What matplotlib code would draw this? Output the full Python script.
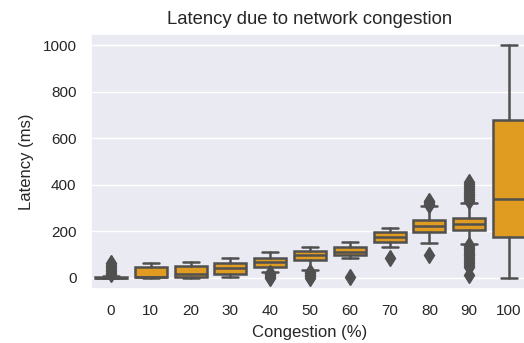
import matplotlib
matplotlib.use("Agg")
import matplotlib.pyplot as plt
import seaborn as sns

categories = ["0", "10", "20", "30", "40", "50", "60", "70", "80", "90", "100"]
q1 = [0, 3, 3, 16, 47, 76, 98, 155, 198, 205, 176]
med = [0, 5, 16, 40, 66, 98, 112, 176, 224, 231, 337]
q3 = [3, 47, 50, 65, 83, 116, 133, 195, 248, 255, 679]
whislo = [0, 0, 0, 2, 26, 32, 83, 133, 148, 145, 0]
whishi = [8, 62, 69, 83, 112, 133, 155, 215, 308, 323, 1000]
fliers = [
    [15, 22, 30, 38, 46, 54, 62],
    [],
    [],
    [],
    [0, 5, 10, 15, 20],
    [0, 6, 12, 18, 24],
    [4],
    [83],
    [98, 312, 318, 325, 332],
    [12, 48, 56, 64, 72, 80, 88, 96, 104, 112, 120, 128, 136, 141,
     330, 338, 346, 354, 362, 370, 378, 386, 394, 402, 410],
    [],
]

sns.set_theme(style="darkgrid")
plt.rcParams['font.family'] = ['Liberation Sans', 'DejaVu Sans']

W, H = 524, 343
fig = plt.figure(figsize=(W / 100, H / 100), dpi=100)
ax = fig.add_axes([91.1 / W, 1 - 289.3 / H, 437.8 / W, 255.6 / H])

box_color = "#DF9C20"
line_color = "#505050"
lw = 1.8
stats = []
for i, c in enumerate(categories):
    stats.append(dict(label=c, q1=q1[i], med=med[i], q3=q3[i],
                      whislo=whislo[i], whishi=whishi[i], fliers=fliers[i]))

ax.bxp(stats, positions=range(len(categories)), widths=0.8, patch_artist=True,
       boxprops=dict(facecolor=box_color, edgecolor=line_color, linewidth=lw),
       medianprops=dict(color=line_color, linewidth=lw),
       whiskerprops=dict(color=line_color, linewidth=lw),
       capprops=dict(color=line_color, linewidth=lw),
       flierprops=dict(marker='d', markerfacecolor=line_color,
                       markeredgecolor=line_color, markersize=8.5,
                       markeredgewidth=1))

ax.set_xlim(-0.5, 10.5)
ax.set_ylim(-50, 1050)
ax.set_yticks([0, 200, 400, 600, 800, 1000])
ax.set_xticks(range(len(categories)))
ax.set_xticklabels(categories)
ax.tick_params(axis='both', labelsize=11, pad=4.5)
ax.xaxis.grid(False)
ax.set_xlabel("Congestion (%)", fontsize=12, labelpad=5)
ax.set_ylabel("Latency (ms)", fontsize=12, labelpad=6)
ax.set_title("Latency due to network congestion", fontsize=13.3, pad=7)

fig.savefig("out.png", dpi=100)
